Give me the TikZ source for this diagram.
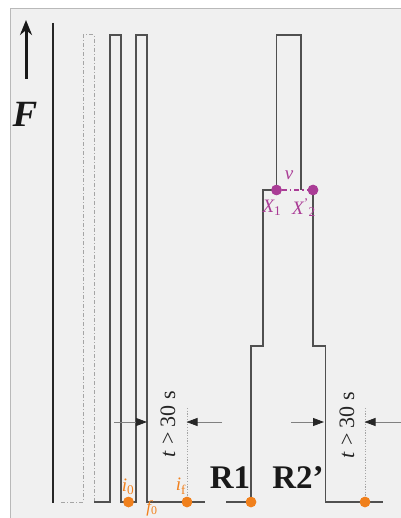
\documentclass[tikz,border=0pt]{standalone}
\usepackage{fontspec}
\setmainfont{Liberation Serif}
\usetikzlibrary{arrows.meta}
\definecolor{bggray}{RGB}{240,240,240}
\definecolor{framegray}{RGB}{185,185,185}
\definecolor{wavegray}{RGB}{80,80,80}
\definecolor{dashgraycol}{RGB}{165,165,165}
\definecolor{orangedot}{RGB}{240,128,28}
\definecolor{magentadot}{RGB}{170,60,150}
\tikzset{
  wave/.style={draw=wavegray, line width=1.3pt},
  thickline/.style={draw=black!85, line width=2.6pt},
  dashgray/.style={draw=dashgraycol, line width=1pt, dash pattern=on 4pt off 2pt on 1pt off 2pt},
  dotgray/.style={draw=dashgraycol, line width=0.9pt, dash pattern=on 1.2pt off 1.5pt},
  odot/.style={circle, fill=orangedot, inner sep=0pt, minimum size=10.5pt},
  mdot/.style={circle, fill=magentadot, inner sep=0pt, minimum size=10.5pt},
  dimarrow/.style={draw=gray, line width=0.8pt, -{Triangle[length=11pt,width=8pt,fill=black!85,color=black!85]}},
  tlabel/.style={rotate=90, font=\fontsize{22}{24}\selectfont, text=black!85},
  rlabel/.style={font=\fontsize{33}{36}\selectfont\bfseries, text=black!90},
  olabel/.style={font=\fontsize{19}{21}\selectfont\itshape, text=orangedot, inner sep=1pt},
  mlabel/.style={font=\fontsize{19}{21}\selectfont\itshape, text=magentadot, inner sep=1pt},
}
\begin{document}
\begin{tikzpicture}[x=1pt,y=-1pt]
\useasboundingbox (0,0) rectangle (400,518);
\fill[white] (0,0) rectangle (400,518);
\fill[bggray] (10.5,8.5) rectangle (402,520);
\draw[framegray, line width=1pt] (10.5,520) -- (10.5,8.5) -- (402,8.5);

% force arrow and label
\coordinate (fa0) at (26,79);
\coordinate (fa1) at (26,20);
\draw[black!90, line width=3pt, -{Stealth[length=15pt,width=12pt]}] (fa0) -- (fa1);
\node[font=\fontsize{37}{40}\selectfont\bfseries\itshape, text=black!90] (F) at (25,114) {F};

% thick axis line
\coordinate (ax0) at (53,23);
\coordinate (ax1) at (53,502.5);
\draw[thickline] (ax0) -- (ax1);

% left panel wave
\draw[dashgray] (61,502) -- (83,502) -- (83,35) -- (94,35) -- (94,502);
\node[odot] (i0) at (128.5,502) {};
\node[odot] (if) at (187,502) {};
\draw[wave] (94,502) -- (110,502) -- (110,35) -- (121,35) -- (121,502) -- (i0.center) -- (136,502) -- (136,35) -- (147,35) -- (147,502) -- (if.center) -- (205,502);
\node[odot] at (i0) {};
\node[odot] at (if) {};
\coordinate (ift) at (187,408);
\draw[dotgray] (ift) -- (if);

\coordinate (la0) at (114,422);
\coordinate (la1) at (147,422);
\coordinate (lb0) at (222,422);
\coordinate (lb1) at (186.5,422);
\draw[dimarrow] (la0) -- (la1);
\draw[dimarrow] (lb0) -- (lb1);
\node[tlabel] (tl) at (168,424) {\textit{t} > 30 s};

\node[olabel] (li0) at (128,487) {i\textsubscript{\upshape 0}};
\node[olabel] (lif) at (181,486) {i\textsubscript{\upshape f}};
\node[olabel, font=\fontsize{17}{19}\selectfont\itshape] (lf0) at (152,508) {f\textsubscript{\upshape 0}};

% right panel
\node[odot] (r1) at (251,502) {};
\node[mdot] (x1) at (276.5,190) {};
\node[mdot] (x2) at (313,190) {};
\node[odot] (r2) at (365,502) {};
\draw[wave] (226,502) -- (r1.center) -- (251,346) -- (263,346) -- (263,190) -- (x1.center) -- (276.5,35) -- (301,35) -- (301,190);
\draw[wave] (x2.center) -- (313,346) -- (325.5,346) -- (325.5,502) -- (r2.center) -- (383,502);
\draw[draw=magentadot, line width=1.5pt, dash pattern=on 5pt off 3pt on 1.5pt off 3pt] (x1) -- (x2);
\node[odot] at (r1) {};
\node[odot] at (r2) {};
\node[mdot] at (x1) {};
\node[mdot] at (x2) {};
\coordinate (r2t) at (365,408);
\draw[dotgray] (r2t) -- (r2);

\coordinate (ra0) at (291,422);
\coordinate (ra1) at (324,422);
\coordinate (rb0) at (401,422);
\coordinate (rb1) at (364.5,422);
\draw[dimarrow] (ra0) -- (ra1);
\draw[dimarrow] (rb0) -- (rb1);
\node[tlabel] (tr) at (347,425) {\textit{t} > 30 s};

\node[mlabel] (lv) at (289,175) {v};
\node[mlabel] (lx1) at (272,208) {X\textsubscript{\upshape 1}};
\node[mlabel] (lx2) at (304,208) {X\textsuperscript{\upshape '}\textsubscript{\upshape 2}};

\node[rlabel] (R1) at (230,478) {R1};
\node[rlabel] (R2) at (298,478) {R2’};
\end{tikzpicture}
\end{document}
